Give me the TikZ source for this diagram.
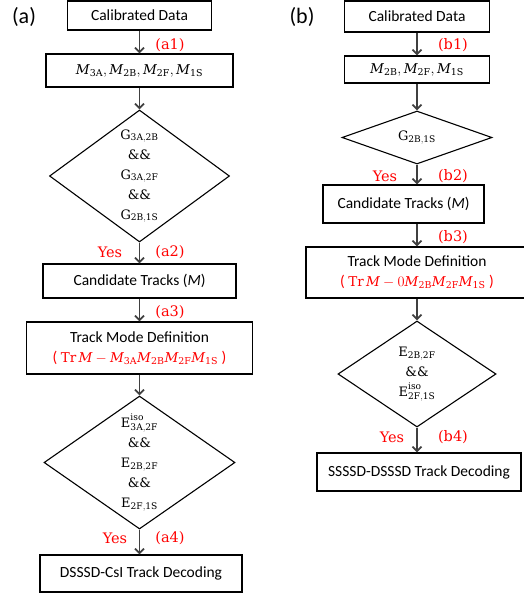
\documentclass[tikz,border=0pt]{standalone}
\usepackage{fontspec}
\setmainfont{DejaVu Serif}
\setsansfont{Carlito}
\usetikzlibrary{positioning,shapes.geometric,arrows.meta}
\definecolor{arrowgray}{HTML}{404040}
\definecolor{tagred}{HTML}{FF0000}

\begin{document}
\begin{tikzpicture}[x=1pt, y=-1pt, thick,
    box/.style = {draw, line width=1.1pt, inner sep=0pt, font=\sffamily\fontsize{15.5}{20}\selectfont, align=center},
    cond/.style = {draw, diamond, line width=1.1pt, inner sep=0pt, aspect=1.4, font=\rmfamily\fontsize{13}{19}\selectfont, align=center},
    flow/.style = {-{Straight Barb[length=4.5pt,width=9pt]}, line width=1.8pt, arrowgray},
    tag/.style = {tagred, font=\rmfamily\fontsize{14.5}{18}\selectfont},
    panel/.style = {font=\sffamily\fontsize{22}{24}\selectfont}]
\useasboundingbox (0,0) rectangle (524,595);

% (a) left chain
\node[panel] (pa) at (24,17) {(a)};
\node[box, minimum width=144pt, minimum height=29pt] (cal_a) at (139.5,15.5) {Calibrated Data};
\node[box, minimum width=187pt, minimum height=33pt] (m_a) at (139.5,70.5)
    {\rmfamily\fontsize{13.5}{16}\selectfont$\mathit{M}_{\mathrm{3A}}, \mathit{M}_{\mathrm{2B}}, \mathit{M}_{\mathrm{2F}}, \mathit{M}_{\mathrm{1S}}$};
\node[cond, minimum width=180pt, minimum height=132pt] (g_a) at (139.5,176)
    {$\mathrm{G}_{\mathrm{3A{,}2B}}$\\[1pt] \&\&\\[1pt] $\mathrm{G}_{\mathrm{3A{,}2F}}$\\[1pt] \&\&\\[1pt] $\mathrm{G}_{\mathrm{2B{,}1S}}$};
\node[box, minimum width=193pt, minimum height=34pt] (cand_a) at (139.5,281) {Candidate Tracks (\textit{M})};
\node[box, minimum width=226pt, minimum height=52pt] (mode_a) at (139.5,348)
    {Track Mode Definition\\ \textcolor{tagred}{( {\rmfamily\fontsize{13.5}{16}\selectfont$\mathrm{Tr}\,\mathit{M} - \mathit{M}_{\mathrm{3A}}\mathit{M}_{\mathrm{2B}}\mathit{M}_{\mathrm{2F}}\mathit{M}_{\mathrm{1S}}$} )}};
\node[cond, minimum width=191pt, minimum height=133pt] (e_a) at (139.5,462.5)
    {$\mathrm{E}^{\mathrm{iso}}_{\mathrm{3A{,}2F}}$\\[1pt] \&\&\\[1pt] $\mathrm{E}_{\mathrm{2B{,}2F}}$\\[1pt] \&\&\\[1pt] $\mathrm{E}_{\mathrm{2F{,}1S}}$};
\node[box, minimum width=202pt, minimum height=37pt] (dec_a) at (141,573.5) {DSSSD-CsI Track Decoding};

\draw[flow] (cal_a) -- (m_a);
\draw[flow] (m_a) -- (g_a);
\draw[flow] (g_a) -- (cand_a);
\draw[flow] (cand_a) -- (mode_a);
\draw[flow] (mode_a) -- (e_a);
\draw[flow] (e_a.south) -- (e_a.south |- dec_a.north);

\node[tag] (t_a1) at (170,45) {(a1)};
\node[tag] (y_a2) at (110,252) {Yes};
\node[tag] (t_a2) at (170,252) {(a2)};
\node[tag] (t_a3) at (170,312) {(a3)};
\node[tag] (y_a4) at (115,538) {Yes};
\node[tag] (t_a4) at (170,538) {(a4)};

% (b) right chain
\node[panel] (pb) at (302,17) {(b)};
\node[box, minimum width=145pt, minimum height=31pt] (cal_b) at (417,16.5) {Calibrated Data};
\node[box, minimum width=145pt, minimum height=27pt] (m_b) at (417,69.5)
    {\rmfamily\fontsize{13.5}{16}\selectfont$\mathit{M}_{\mathrm{2B}}, \mathit{M}_{\mathrm{2F}}, \mathit{M}_{\mathrm{1S}}$};
\node[cond, minimum width=150pt, minimum height=53pt] (g_b) at (417,137.5) {$\mathrm{G}_{\mathrm{2B{,}1S}}$};
\node[box, minimum width=161pt, minimum height=38pt] (cand_b) at (403.5,204) {Candidate Tracks (\textit{M})};
\node[box, minimum width=222pt, minimum height=51pt] (mode_b) at (417,272.5)
    {Track Mode Definition\\ \textcolor{tagred}{( {\rmfamily\fontsize{13.5}{16}\selectfont$\mathrm{Tr}\,\mathit{M} - 0\mathit{M}_{\mathrm{2B}}\mathit{M}_{\mathrm{2F}}\mathit{M}_{\mathrm{1S}}$} )}};
\node[cond, minimum width=158pt, minimum height=106pt] (e_b) at (417,374)
    {$\mathrm{E}_{\mathrm{2B{,}2F}}$\\[1pt] \&\&\\[1pt] $\mathrm{E}^{\mathrm{iso}}_{\mathrm{2F{,}1S}}$};
\node[box, minimum width=204pt, minimum height=38pt] (dec_b) at (419,472) {SSSSD-DSSSD Track Decoding};

\draw[flow] (cal_b) -- (m_b);
\draw[flow] (m_b) -- (g_b);
\draw[flow] (g_b.south) -- (g_b.south |- cand_b.north);
\draw[flow] (cand_b.south -| mode_b) -- (mode_b);
\draw[flow] (mode_b) -- (e_b);
\draw[flow] (e_b.south) -- (e_b.south |- dec_b.north);

\node[tag] (t_b1) at (453,45) {(b1)};
\node[tag] (y_b2) at (385,176) {Yes};
\node[tag] (t_b2) at (453,176) {(b2)};
\node[tag] (t_b3) at (453,237) {(b3)};
\node[tag] (y_b4) at (392,437) {Yes};
\node[tag] (t_b4) at (453,437) {(b4)};
\end{tikzpicture}
\end{document}
